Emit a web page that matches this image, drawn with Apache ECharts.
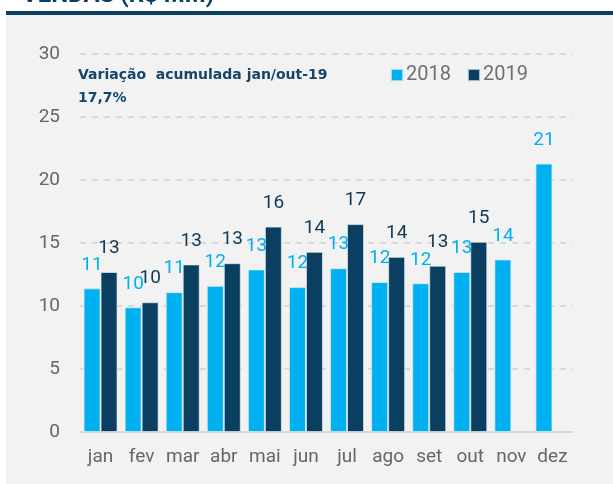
<!DOCTYPE html>
<html>
<head>
<meta charset="utf-8">
<script src="https://cdn.jsdelivr.net/npm/echarts@6/dist/echarts.min.js"></script>
<style>
    html, body { margin: 0; padding: 0; background: #ffffff; }
    #vendasChart { width: 613px; height: 484px; }
</style>
</head>
<body>
<div id="vendasChart"></div>
<script>
// meses e valores de vendas (R$ MM)
const meses = ['jan', 'fev', 'mar', 'abr', 'mai', 'jun', 'jul', 'ago', 'set', 'out', 'nov', 'dez'];
const vendas2018 = [11.4, 9.9, 11.1, 11.6, 12.9, 11.5, 13.0, 11.9, 11.8, 12.7, 13.7, 21.3];
const vendas2019 = [12.7, 10.3, 13.3, 13.4, 16.3, 14.3, 16.5, 13.9, 13.2, 15.1, null, null];
const yTicks = [0, 5, 10, 15, 20, 25, 30];

const corClaro = '#00b0f0';
const corEscuro = '#0b3f61';
const fonte = 'Roboto, "Noto Sans", sans-serif';

const chart = echarts.init(document.getElementById('vendasChart'));

const rotulo = (cor) => ({
    show: true,
    position: 'top',
    distance: 14,
    color: cor,
    fontFamily: fonte,
    fontSize: 19,
    formatter: (p) => Math.round(p.value)
});

const option = {
    animation: false,
    textStyle: { fontFamily: fonte },
    graphic: [
        {
            type: 'text',
            left: 22,
            top: -16,
            silent: true,
            style: {
                text: 'VENDAS (R$ MM)',
                fill: '#0b3f61',
                font: 'bold 24px ' + fonte
            }
        },
        {
            type: 'rect',
            silent: true,
            z: -10,
            shape: { x: 6, y: 15, width: 607, height: 469 },
            style: { fill: '#f2f2f2' }
        },
        {
            type: 'rect',
            silent: true,
            z: -9,
            shape: { x: 6, y: 11, width: 607, height: 4 },
            style: { fill: '#0b3f61' }
        },
        {
            type: 'text',
            left: 78,
            top: 64,
            silent: true,
            style: {
                text: 'Variação  acumulada jan/out-19\n17,7%',
                fill: '#14466b',
                font: 'bold 14px "DejaVu Sans", Verdana, sans-serif',
                lineHeight: 23
            }
        }
    ],
    legend: {
        data: ['2018', '2019'],
        left: 385,
        top: 60,
        icon: 'rect',
        itemWidth: 12,
        itemHeight: 12,
        itemGap: 16,
        textStyle: {
            color: '#707070',
            fontSize: 20,
            padding: [0, 0, 0, -2]
        }
    },
    grid: {
        left: 80,
        right: 40,
        top: 54,
        bottom: 52
    },
    xAxis: {
        type: 'category',
        data: meses,
        axisTick: { show: false },
        axisLine: { lineStyle: { color: '#d9d9d9', width: 2 } },
        axisLabel: {
            color: '#666666',
            fontSize: 19,
            margin: 16,
            interval: 0
        }
    },
    yAxis: {
        type: 'value',
        min: yTicks[0],
        max: yTicks[yTicks.length - 1],
        interval: 5,
        axisLabel: {
            color: '#666666',
            fontSize: 19,
            margin: 20
        },
        splitLine: {
            lineStyle: {
                color: '#d9d9d9',
                width: 2,
                type: [6, 6]
            }
        }
    },
    series: [
        {
            name: '2018',
            type: 'bar',
            barWidth: 17,
            barGap: '0%',
            data: vendas2018,
            itemStyle: {
                color: corClaro,
                borderColor: 'rgba(230, 236, 240, 0.7)',
                borderWidth: 1
            },
            label: rotulo(corClaro)
        },
        {
            name: '2019',
            type: 'bar',
            barWidth: 17,
            barGap: '0%',
            data: vendas2019,
            itemStyle: {
                color: corEscuro,
                borderColor: 'rgba(230, 236, 240, 0.7)',
                borderWidth: 1
            },
            label: rotulo('#0e3a58')
        }
    ]
};

chart.setOption(option);
</script>
</body>
</html>
